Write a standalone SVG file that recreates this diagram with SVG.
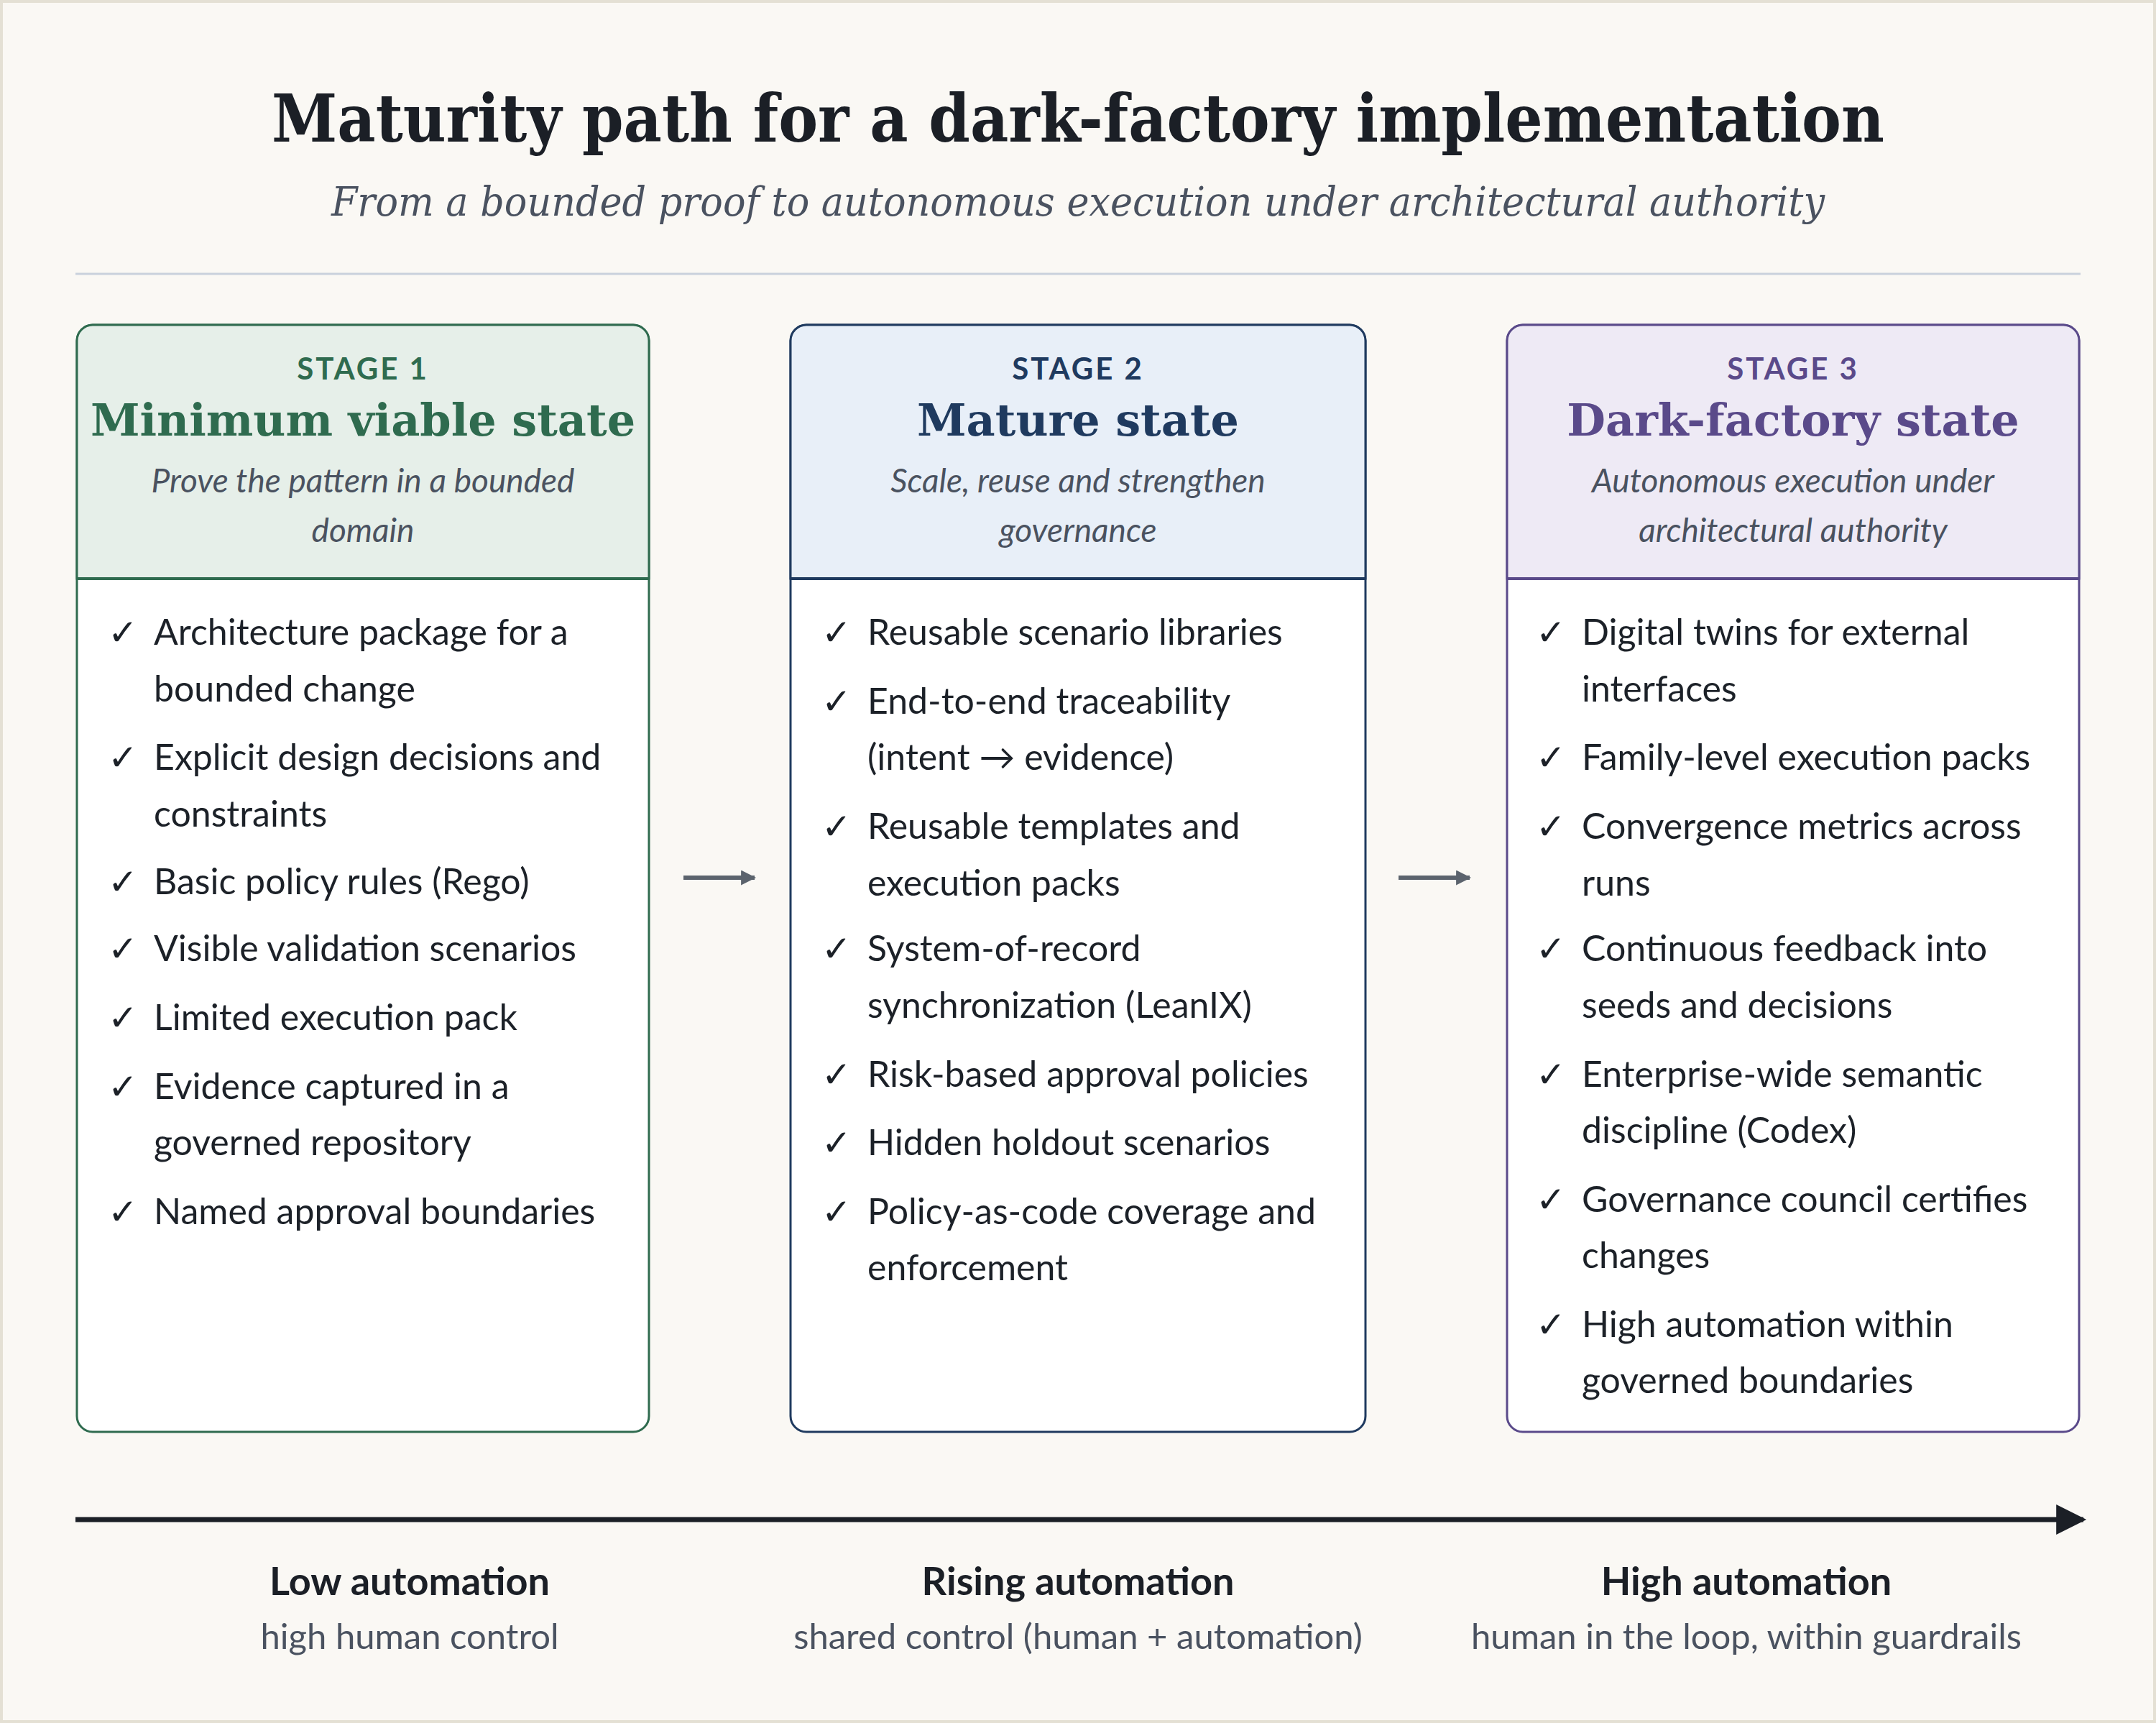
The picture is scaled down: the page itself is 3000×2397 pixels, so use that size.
<svg xmlns="http://www.w3.org/2000/svg" width="3000" height="2397" viewBox="0 0 3000 2397">
<defs>
<style>
.ttl{font-family:"DejaVu Serif","Liberation Serif",serif;font-weight:bold;fill:#1b1f26}
.sub{font-family:"DejaVu Serif","Liberation Serif",serif;font-style:italic;fill:#4a5260}
.lab{font-family:Lato,"Liberation Sans",sans-serif;font-weight:bold;font-size:42px;letter-spacing:3px}
.nm{font-family:"DejaVu Serif","Liberation Serif",serif;font-weight:bold;font-size:62px}
.ds{font-family:Lato,"Liberation Sans",sans-serif;font-style:italic;font-size:46px;fill:#4a5260}
.it{font-family:Lato,"Liberation Sans",sans-serif;font-size:50px;fill:#1c2128}
.bl{font-family:Lato,"Liberation Sans",sans-serif;font-weight:bold;font-size:54px;fill:#1b1f26}
.bs{font-family:Lato,"Liberation Sans",sans-serif;font-size:49px;fill:#4a5260}
</style>
<marker id="ah" viewBox="0 0 10 10" refX="9" refY="5" markerWidth="3.5" markerHeight="3.5" orient="auto"><path d="M0,0L10,5L0,10z" fill="#5b636d"/></marker>
<marker id="bh" viewBox="0 0 10 10" refX="9" refY="5" markerWidth="6.5" markerHeight="6" orient="auto"><path d="M0,0L10,5L0,10z" fill="#1b1f26"/></marker>
</defs>
<rect x="2" y="2" width="2996" height="2393" fill="#faf8f4" stroke="#e4e0d4" stroke-width="4"/>
<text class="ttl" x="1500" y="197" font-size="92" text-anchor="middle" textLength="2244" lengthAdjust="spacingAndGlyphs">Maturity path for a dark-factory implementation</text>
<text class="sub" x="1500" y="300" font-size="56" text-anchor="middle" textLength="2078" lengthAdjust="spacingAndGlyphs">From a bounded proof to autonomous execution under architectural authority</text>
<line x1="105" y1="381" x2="2895" y2="381" stroke="#c9d1dc" stroke-width="3"/>

<g id="stage1">
<rect x="107" y="452" width="796" height="1540" rx="22" fill="#ffffff" stroke="#2f6b4f" stroke-width="3"/>
<path d="M107,805V474a22,22 0 0 1 22,-22H881a22,22 0 0 1 22,22V805z" fill="#e6efe9" stroke="#2f6b4f" stroke-width="3"/>
<line x1="107" y1="805" x2="903" y2="805" stroke="#2f6b4f" stroke-width="4"/>
<text class="lab" x="505" y="528" text-anchor="middle" fill="#2f6b4f">STAGE 1</text>
<text class="nm" x="505" y="606" text-anchor="middle" fill="#2f6b4f">Minimum viable state</text>
<text class="ds" x="505" y="685" text-anchor="middle">Prove the pattern in a bounded</text>
<text class="ds" x="505" y="754" text-anchor="middle">domain</text>
<g class="it">
<text x="150" y="897">✓</text><text x="214" y="897">Architecture package for a</text><text x="214" y="976">bounded change</text>
<text x="150" y="1071">✓</text><text x="214" y="1071">Explicit design decisions and</text><text x="214" y="1150">constraints</text>
<text x="150" y="1244">✓</text><text x="214" y="1244">Basic policy rules (Rego)</text>
<text x="150" y="1337">✓</text><text x="214" y="1337">Visible validation scenarios</text>
<text x="150" y="1433">✓</text><text x="214" y="1433">Limited execution pack</text>
<text x="150" y="1529">✓</text><text x="214" y="1529">Evidence captured in a</text><text x="214" y="1607">governed repository</text>
<text x="150" y="1703">✓</text><text x="214" y="1703">Named approval boundaries</text>
</g>
</g>

<g id="stage2">
<rect x="1100" y="452" width="800" height="1540" rx="22" fill="#ffffff" stroke="#1f3a5f" stroke-width="3"/>
<path d="M1100,805V474a22,22 0 0 1 22,-22H1878a22,22 0 0 1 22,22V805z" fill="#e8eff8" stroke="#1f3a5f" stroke-width="3"/>
<line x1="1100" y1="805" x2="1900" y2="805" stroke="#1f3a5f" stroke-width="4"/>
<text class="lab" x="1500" y="528" text-anchor="middle" fill="#1f3a5f">STAGE 2</text>
<text class="nm" x="1500" y="606" text-anchor="middle" fill="#1f3a5f">Mature state</text>
<text class="ds" x="1500" y="685" text-anchor="middle">Scale, reuse and strengthen</text>
<text class="ds" x="1500" y="754" text-anchor="middle">governance</text>
<g class="it">
<text x="1143" y="897">✓</text><text x="1207" y="897">Reusable scenario libraries</text>
<text x="1143" y="993">✓</text><text x="1207" y="993">End-to-end traceability</text><text x="1207" y="1071">(intent → evidence)</text>
<text x="1143" y="1167">✓</text><text x="1207" y="1167">Reusable templates and</text><text x="1207" y="1246">execution packs</text>
<text x="1143" y="1337">✓</text><text x="1207" y="1337">System-of-record</text><text x="1207" y="1416">synchronization (LeanIX)</text>
<text x="1143" y="1512">✓</text><text x="1207" y="1512">Risk-based approval policies</text>
<text x="1143" y="1607">✓</text><text x="1207" y="1607">Hidden holdout scenarios</text>
<text x="1143" y="1703">✓</text><text x="1207" y="1703">Policy-as-code coverage and</text><text x="1207" y="1781">enforcement</text>
</g>
</g>

<g id="stage3">
<rect x="2097" y="452" width="796" height="1540" rx="22" fill="#ffffff" stroke="#5a4a8a" stroke-width="3"/>
<path d="M2097,805V474a22,22 0 0 1 22,-22H2871a22,22 0 0 1 22,22V805z" fill="#eeeaf5" stroke="#5a4a8a" stroke-width="3"/>
<line x1="2097" y1="805" x2="2893" y2="805" stroke="#5a4a8a" stroke-width="4"/>
<text class="lab" x="2495" y="528" text-anchor="middle" fill="#5a4a8a">STAGE 3</text>
<text class="nm" x="2495" y="606" text-anchor="middle" fill="#5a4a8a">Dark-factory state</text>
<text class="ds" x="2495" y="685" text-anchor="middle">Autonomous execution under</text>
<text class="ds" x="2495" y="754" text-anchor="middle">architectural authority</text>
<g class="it">
<text x="2137" y="897">✓</text><text x="2201" y="897">Digital twins for external</text><text x="2201" y="976">interfaces</text>
<text x="2137" y="1071">✓</text><text x="2201" y="1071">Family-level execution packs</text>
<text x="2137" y="1167">✓</text><text x="2201" y="1167">Convergence metrics across</text><text x="2201" y="1246">runs</text>
<text x="2137" y="1337">✓</text><text x="2201" y="1337">Continuous feedback into</text><text x="2201" y="1416">seeds and decisions</text>
<text x="2137" y="1512">✓</text><text x="2201" y="1512">Enterprise-wide semantic</text><text x="2201" y="1590">discipline (Codex)</text>
<text x="2137" y="1686">✓</text><text x="2201" y="1686">Governance council certifies</text><text x="2201" y="1764">changes</text>
<text x="2137" y="1860">✓</text><text x="2201" y="1860">High automation within</text><text x="2201" y="1938">governed boundaries</text>
</g>
</g>

<g id="connectors">
<line x1="951" y1="1221" x2="1050" y2="1221" stroke="#5b636d" stroke-width="6" marker-end="url(#ah)"/>
<line x1="1946" y1="1221" x2="2045" y2="1221" stroke="#5b636d" stroke-width="6" marker-end="url(#ah)"/>
<line x1="105" y1="2114" x2="2899" y2="2114" stroke="#1b1f26" stroke-width="7" marker-end="url(#bh)"/>
</g>

<g id="scale">
<text class="bl" x="570" y="2219" text-anchor="middle">Low automation</text>
<text class="bs" x="570" y="2294" text-anchor="middle">high human control</text>
<text class="bl" x="1500" y="2219" text-anchor="middle">Rising automation</text>
<text class="bs" x="1500" y="2294" text-anchor="middle">shared control (human + automation)</text>
<text class="bl" x="2430" y="2219" text-anchor="middle">High automation</text>
<text class="bs" x="2430" y="2294" text-anchor="middle">human in the loop, within guardrails</text>
</g>
</svg>
